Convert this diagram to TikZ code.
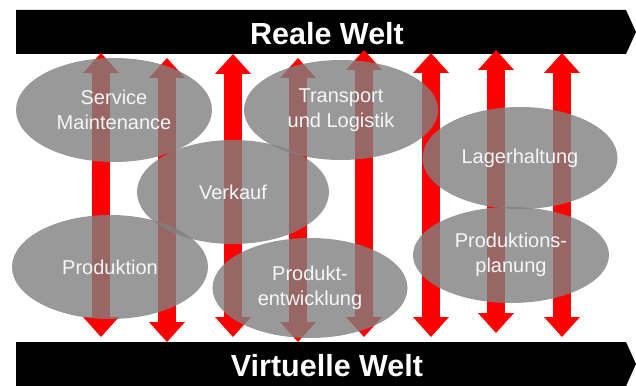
\documentclass[tikz,border=0pt]{standalone}
\usepackage{fontspec}
\setmainfont{Liberation Sans}
\usetikzlibrary{arrows.meta,shapes.geometric}
\definecolor{ovalgray}{RGB}{128,128,128}
\definecolor{arrred}{RGB}{255,0,0}
\begin{document}
\begin{tikzpicture}[x=1pt,y=-1pt,
  bar/.style={fill=black},
  bartext/.style={text=white,font=\bfseries\fontsize{30.5}{32}\selectfont,inner sep=0pt},
  oval/.style={ellipse,fill=ovalgray,fill opacity=0.8,text opacity=1,text=white!93!gray,
    font=\fontsize{20}{24.5}\selectfont,align=center,inner sep=0pt},
  link/.style={draw=arrred,line width=18pt,
    {Triangle[width=36pt,length=20pt,line width=0pt]}-{Triangle[width=36pt,length=20pt,line width=0pt]}}
]
\useasboundingbox (0,0) rectangle (636,385);
% bars
\fill[bar] (16,10) -- (626,10) -- (636,32) -- (626,54) -- (16,54) -- cycle;
\fill[bar] (16,342) -- (626,342) -- (636,364) -- (626,386) -- (16,386) -- cycle;
\node[bartext] (real) at (327,34) {Reale Welt};
\node[bartext] (virt) at (327,366) {Virtuelle Welt};
% arrow ends
\coordinate (u1) at (101,53);  \coordinate (d1) at (101,337);
\coordinate (u2) at (167,58);  \coordinate (d2) at (167,342);
\coordinate (u3) at (233,54);  \coordinate (d3) at (233,337);
\coordinate (u4) at (298,58);  \coordinate (d4) at (298,342);
\coordinate (u5) at (364,50);  \coordinate (d5) at (364,337);
\coordinate (u6) at (431,53);  \coordinate (d6) at (431,337);
\coordinate (u7) at (496,50);  \coordinate (d7) at (496,333);
\coordinate (u8) at (562,53);  \coordinate (d8) at (562,337);
\foreach \i in {1,...,8} {\draw[link] (d\i) -- (u\i);}
% ovals
\node[oval,minimum width=196pt,minimum height=104pt] (serv) at (114,110) {Service\\Maintenance};
\node[oval,minimum width=194pt,minimum height=100pt] (trans) at (341,110) {Transport\\und Logistik};
\node[oval,minimum width=192pt,minimum height=104pt] (verk) at (233,192) {Verkauf};
\node[oval,minimum width=195pt,minimum height=102pt] (lager) at (520,158) {Lagerhaltung};
\node[oval,minimum width=196pt,minimum height=104pt] (prod) at (110,267) {Produktion};
\node[oval,minimum width=195pt,minimum height=100pt] (entw) at (310,288) {Produkt-\\entwicklung};
\node[oval,minimum width=196pt,minimum height=96pt] (plan) at (511,255) {Produktions-\\planung};
\end{tikzpicture}
\end{document}
